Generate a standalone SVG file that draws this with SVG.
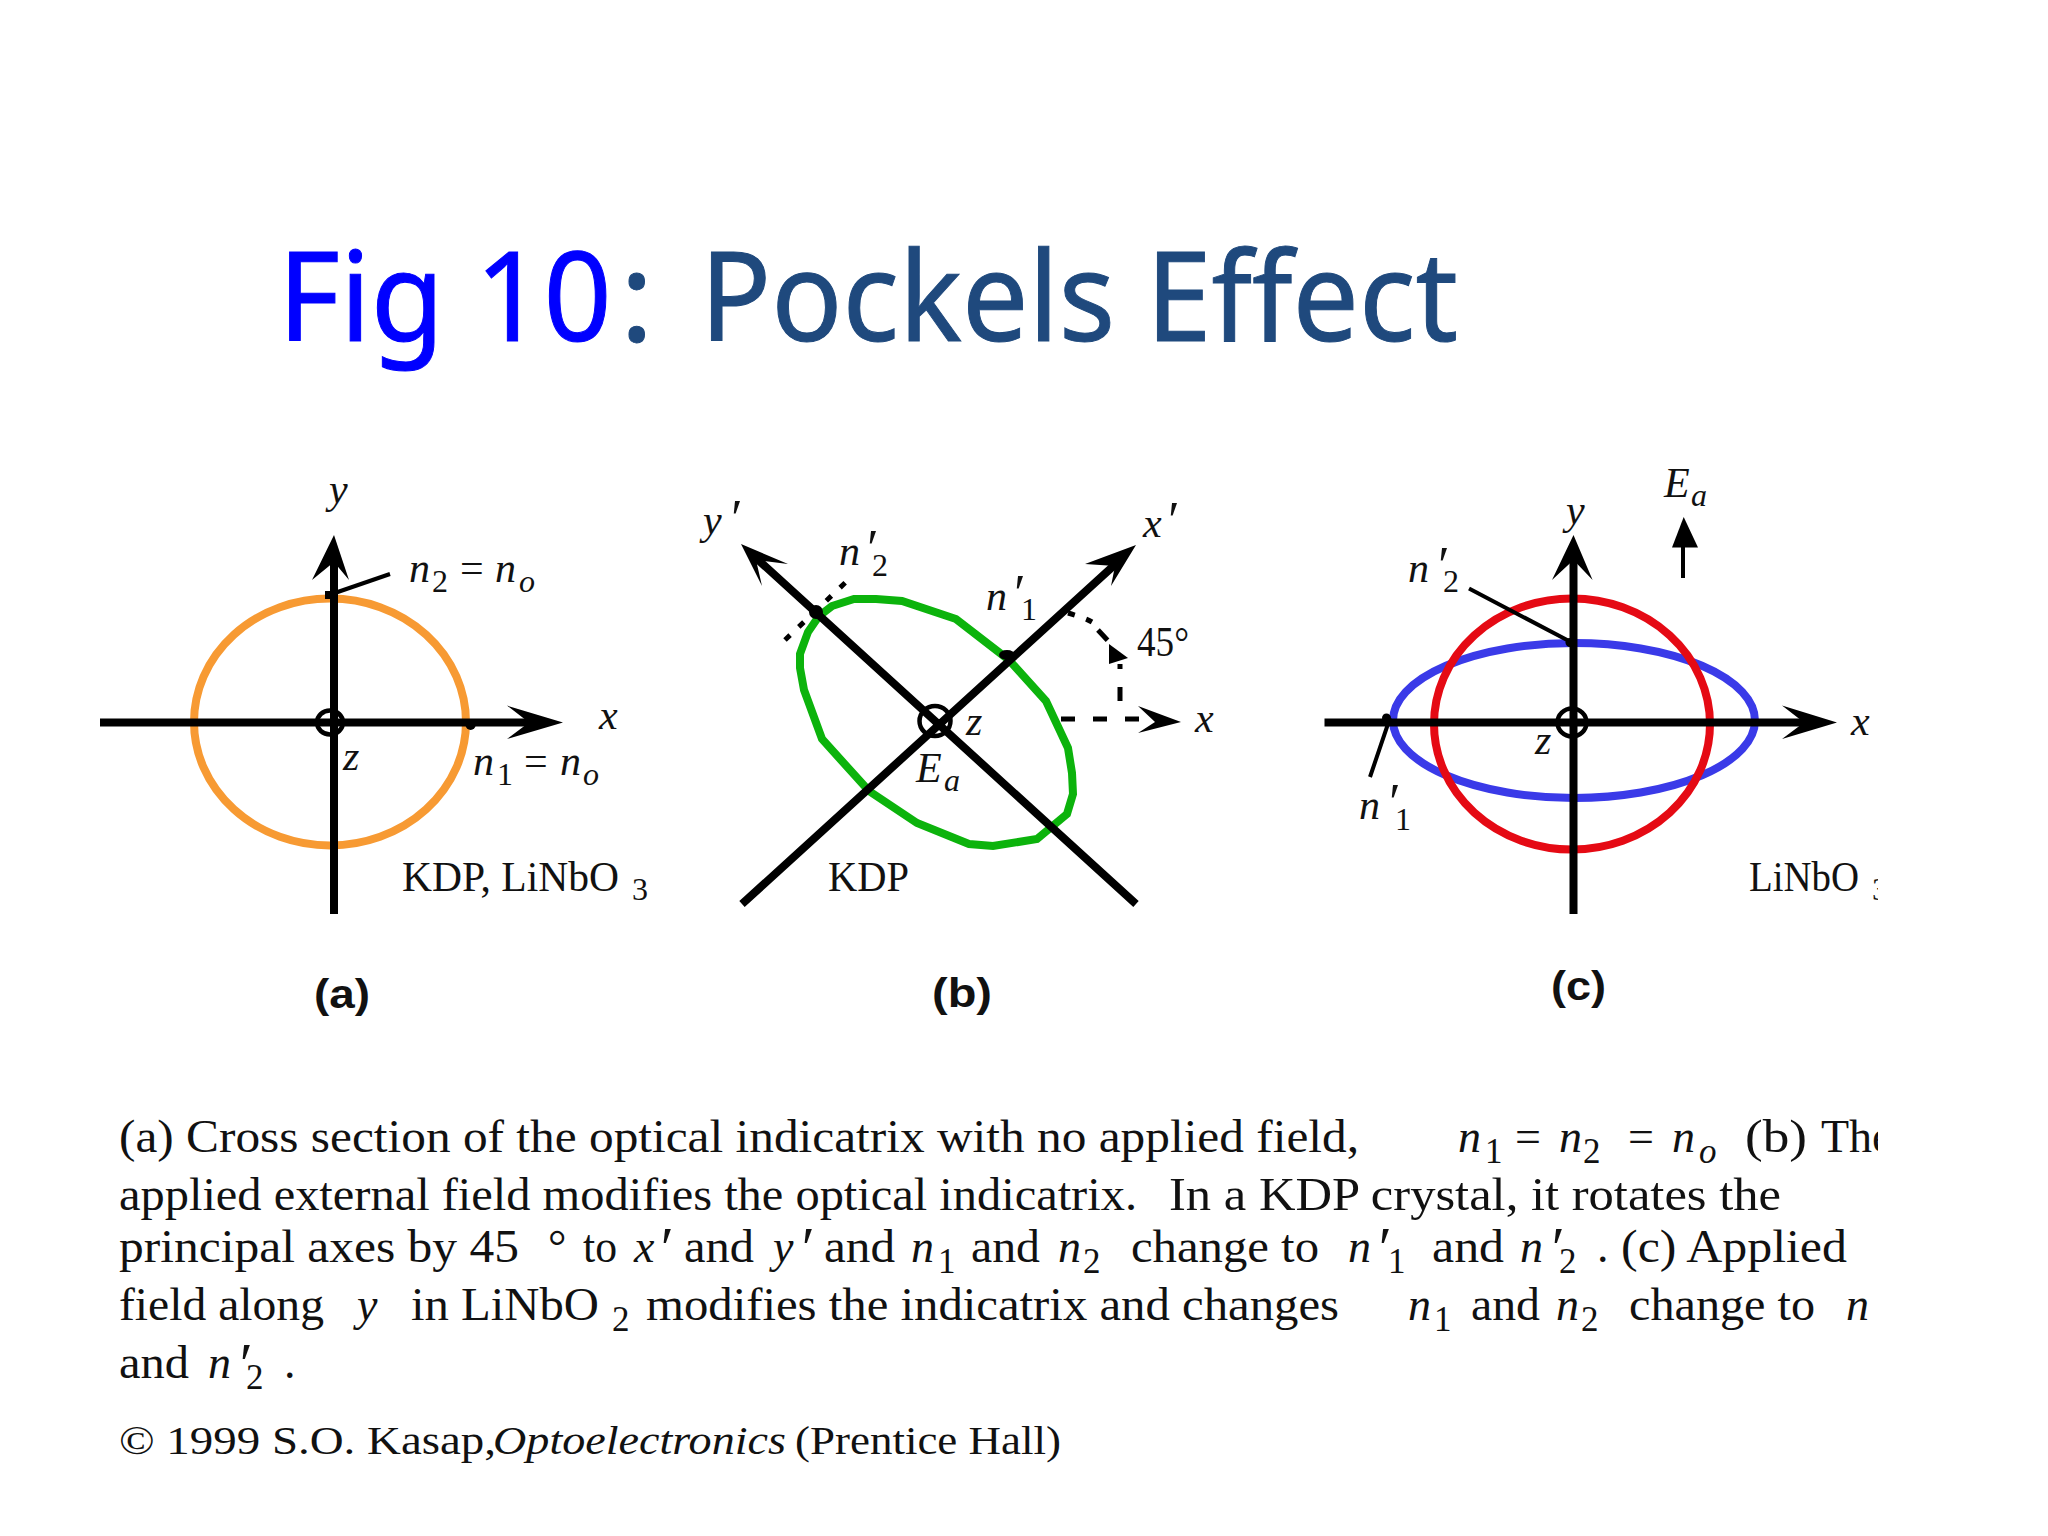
<svg xmlns="http://www.w3.org/2000/svg" width="2048" height="1536" viewBox="0 0 2048 1536">
<style>
text{font-family:"Liberation Serif","Times New Roman",serif;fill:#111}
.i{font-style:italic}
.f{font-size:42px}
.fq{font-size:52px;font-style:italic}
.s{font-size:32px}
.p{font-size:46px}
.pq{font-size:60px;font-style:italic}
.ps{font-size:35px}
.c{font-size:41px}
.b{font-family:"Liberation Sans",Arial,sans-serif;font-weight:bold;font-size:40px}
.t{font-family:"Noto Sans",sans-serif;font-size:125px;stroke-width:1px}
text.t1{fill:#0000ff;stroke:#0000ff}
text.t2{fill:#1f497d;stroke:#1f497d}
.ax{stroke:#000;stroke-width:8;fill:none}
.ld{stroke:#000;stroke-width:4;fill:none}
.da{stroke:#000;stroke-width:5;fill:none;stroke-dasharray:14 18}
.do{stroke:#000;stroke-width:5;fill:none;stroke-dasharray:7 12}
.o{fill:none;stroke:#000;stroke-width:4.500}
.cv{fill:none;stroke-width:8}
polygon.h,circle.h,ellipse.h{fill:#000;stroke:none}
</style>
<defs><clipPath id="pg"><rect x="0" y="0" width="1878" height="1536"/></clipPath></defs>
<rect width="2048" height="1536" fill="#fff"/>
<g id="title">
<text class="t t1" transform="translate(278 341) scale(.955 1)" x="0" y="0">Fig 10</text>
<text class="t t2" x="620" y="341">:</text>
<text class="t t2" x="700" y="341" textLength="758" lengthAdjust="spacingAndGlyphs">Pockels Effect</text>
</g>
<g id="indicatrix-a">
<ellipse class="cv" cx="330" cy="722" rx="136" ry="123.500" stroke="#f79a33"/>
</g>
<g id="indicatrix-b">
<polygon class="cv" stroke="#0cb30c" points="800,654 800,668 804,690 822,739 869,791 917,823 969,844 993,846 1037,839 1067,814 1073,794 1072,773 1068,748 1046,701 1009,660 956,619 902,601 876,599 854,599 832,606 819,616 808,632"/>
</g>
<g id="indicatrix-c">
<ellipse class="cv" cx="1574" cy="720.500" rx="181" ry="77.500" stroke="#3a3ae8"/>
<ellipse class="cv" cx="1572" cy="724" rx="138" ry="125.500" stroke="#e50a14"/>
</g>
<g id="connectors">
<path class="ax" d="M100 722.500H540M334 914V555"/>
<polygon class="h" points="563,722.500 507,705.600 529,722.500 507,739"/>
<polygon class="h" points="334,535 312,580 334,562 349,580"/>
<ellipse class="o" cx="330" cy="722.500" rx="13" ry="12"/>
<path class="ld" d="M329 595L390 574"/>
<rect x="325" y="591" width="8" height="8"/>
<circle class="h" cx="470.600" cy="725" r="5"/>

<path class="ax" d="M742 904L1120 560M1136 904L756 558"/>
<polygon class="h" points="1136,545 1085,564 1115,566 1111,586"/>
<polygon class="h" points="741,544 788,564 756,560 762,586"/>
<ellipse class="o" cx="935" cy="721" rx="15.500" ry="15"/>
<circle class="h" cx="816" cy="612" r="7"/>
<ellipse class="h" cx="1007" cy="655" rx="8" ry="5"/>
<path class="da" d="M1061 719H1150M1120 701V664"/>
<polygon class="h" points="1181,722 1138,706 1155,722 1138,733"/>
<polygon class="h" points="1109,644 1128,658 1109,664"/>
<path class="do" d="M1068 613Q1085 618 1092 622"/>
<path class="da" d="M1098 630L1111 644"/>
<path class="do" d="M785 640L846 582"/>

<path class="ax" d="M1324.500 722.500H1810M1573.500 914V555"/>
<polygon class="h" points="1837,722.500 1782,705.600 1804,722.500 1782,739"/>
<polygon class="h" points="1573.500,535 1552,580 1573.500,560 1592.600,580"/>
<ellipse class="o" cx="1572" cy="722.500" rx="14.500" ry="14"/>
<path class="ld" d="M1469 588.500L1569 641M1370 777L1390 718"/>
<circle class="h" cx="1570" cy="642.500" r="4.500"/>
<circle class="h" cx="1386.500" cy="718" r="4.500"/>
<polygon class="h" points="1683.700,517 1672,547.600 1698,547.600"/>
<path class="ld" d="M1683 547V578"/>
</g>
<g id="labels-a">
<text class="f i" x="329" y="503">y</text>
<text class="f i" x="409" y="582">n</text><text class="s" x="432" y="592">2</text><text class="f" x="460" y="582">=</text><text class="f i" x="495" y="582">n</text><text class="s i" x="519" y="592">o</text>
<text class="f i" x="473" y="775">n</text><text class="s" x="497" y="785">1</text><text class="f" x="524" y="775">=</text><text class="f i" x="560" y="775">n</text><text class="s i" x="583" y="785">o</text>
<text class="f i" x="343" y="770">z</text>
<text class="f i" x="599" y="729">x</text>
<text class="f" x="402" y="891" textLength="217" lengthAdjust="spacingAndGlyphs">KDP, LiNbO</text><text class="s" x="632" y="900">3</text>
<text class="b" x="314" y="1008" textLength="56" lengthAdjust="spacingAndGlyphs">(a)</text>
</g>
<g id="labels-b">
<text class="f i" x="703" y="534">y</text><text class="fq" x="728" y="536">′</text>
<text class="f i" x="839" y="565">n</text><text class="fq" x="864" y="566">′</text><text class="s" x="872" y="576">2</text>
<text class="f i" x="1143" y="537">x</text><text class="fq" x="1165" y="538">′</text>
<text class="f i" x="986" y="610">n</text><text class="fq" x="1011" y="611">′</text><text class="s" x="1021" y="620">1</text>
<text class="f" x="1137" y="656" textLength="52" lengthAdjust="spacingAndGlyphs">45°</text>
<text class="f i" x="966" y="735">z</text>
<text class="f i" x="1195" y="732">x</text>
<text class="f i" x="916" y="782">E</text><text class="s i" x="944" y="791">a</text>
<text class="f" x="828" y="891" textLength="81" lengthAdjust="spacingAndGlyphs">KDP</text>
<text class="b" x="932" y="1007" textLength="60" lengthAdjust="spacingAndGlyphs">(b)</text>
</g>
<g id="labels-c" clip-path="url(#pg)">
<text class="f i" x="1664" y="497">E</text><text class="s i" x="1691" y="506">a</text>
<text class="f i" x="1566" y="524">y</text>
<text class="f i" x="1408" y="582">n</text><text class="fq" x="1435" y="583">′</text><text class="s" x="1443" y="592">2</text>
<text class="f i" x="1851" y="735">x</text>
<text class="f i" x="1535" y="754">z</text>
<text class="f i" x="1359" y="819">n</text><text class="fq" x="1386" y="820">′</text><text class="s" x="1395" y="830">1</text>
<text class="f" x="1749" y="891" textLength="110" lengthAdjust="spacingAndGlyphs">LiNbO</text><text class="s" x="1872" y="900">3</text>
<text class="b" x="1551" y="1000" textLength="55" lengthAdjust="spacingAndGlyphs">(c)</text>
</g>
<g id="caption" clip-path="url(#pg)">
<text class="p" x="119" y="1152" textLength="1240" lengthAdjust="spacingAndGlyphs">(a) Cross section of the optical indicatrix with no applied field,</text>
<text class="p i" x="1458" y="1152">n</text><text class="ps" x="1485" y="1163">1</text><text class="p" x="1515" y="1152">=</text><text class="p i" x="1559" y="1152">n</text><text class="ps" x="1583" y="1163">2</text><text class="p" x="1628" y="1152">=</text><text class="p i" x="1672" y="1152">n</text><text class="ps i" x="1699" y="1163">o</text>
<text class="p" x="1745" y="1152" textLength="62" lengthAdjust="spacingAndGlyphs">(b)</text><text class="p" x="1821" y="1152">The</text>

<text class="p" x="119" y="1210" textLength="1018" lengthAdjust="spacingAndGlyphs">applied external field modifies the optical indicatrix.</text>
<text class="p" x="1169" y="1210" textLength="612" lengthAdjust="spacingAndGlyphs">In a KDP crystal, it rotates the</text>

<text class="p" x="119" y="1262" textLength="400" lengthAdjust="spacingAndGlyphs">principal axes by 45</text>
<text class="p" x="548" y="1262">°</text>
<text class="p" x="583" y="1262" textLength="34" lengthAdjust="spacingAndGlyphs">to</text>
<text class="p i" x="634" y="1262">x</text><text class="pq" x="657" y="1268">′</text>
<text class="p" x="684" y="1262" textLength="70" lengthAdjust="spacingAndGlyphs">and</text>
<text class="p i" x="773" y="1262">y</text><text class="pq" x="798" y="1268">′</text>
<text class="p" x="824" y="1262" textLength="71" lengthAdjust="spacingAndGlyphs">and</text>
<text class="p i" x="911" y="1262">n</text><text class="ps" x="938" y="1273">1</text>
<text class="p" x="971" y="1262" textLength="69" lengthAdjust="spacingAndGlyphs">and</text>
<text class="p i" x="1058" y="1262">n</text><text class="ps" x="1083" y="1273">2</text>
<text class="p" x="1131" y="1262" textLength="188" lengthAdjust="spacingAndGlyphs">change to</text>
<text class="p i" x="1348" y="1262">n</text><text class="pq" x="1375" y="1268">′</text><text class="ps" x="1388" y="1273">1</text>
<text class="p" x="1432" y="1262" textLength="72" lengthAdjust="spacingAndGlyphs">and</text>
<text class="p i" x="1520" y="1262">n</text><text class="pq" x="1548" y="1268">′</text><text class="ps" x="1559" y="1273">2</text>
<text class="p" x="1597" y="1262">.</text>
<text class="p" x="1621" y="1262" textLength="226" lengthAdjust="spacingAndGlyphs">(c) Applied</text>

<text class="p" x="119" y="1320" textLength="205" lengthAdjust="spacingAndGlyphs">field along</text>
<text class="p i" x="357" y="1320">y</text>
<text class="p" x="411" y="1320" textLength="188" lengthAdjust="spacingAndGlyphs">in LiNbO</text><text class="ps" x="612" y="1331">2</text>
<text class="p" x="646" y="1320" textLength="693" lengthAdjust="spacingAndGlyphs">modifies the indicatrix and changes</text>
<text class="p i" x="1408" y="1320">n</text><text class="ps" x="1434" y="1331">1</text>
<text class="p" x="1471" y="1320" textLength="69" lengthAdjust="spacingAndGlyphs">and</text>
<text class="p i" x="1556" y="1320">n</text><text class="ps" x="1581" y="1331">2</text>
<text class="p" x="1629" y="1320" textLength="186" lengthAdjust="spacingAndGlyphs">change to</text>
<text class="p i" x="1846" y="1320">n</text>

<text class="p" x="119" y="1378" textLength="70" lengthAdjust="spacingAndGlyphs">and</text>
<text class="p i" x="208" y="1378">n</text><text class="pq" x="236" y="1384">′</text><text class="ps" x="246" y="1389">2</text>
<text class="p" x="284" y="1378">.</text>

<text class="c" x="119" y="1454" textLength="377" lengthAdjust="spacingAndGlyphs">© 1999 S.O. Kasap,</text>
<text class="c i" x="493" y="1454" textLength="293" lengthAdjust="spacingAndGlyphs">Optoelectronics</text>
<text class="c" x="795" y="1454" textLength="266" lengthAdjust="spacingAndGlyphs">(Prentice Hall)</text>
</g>
</svg>
